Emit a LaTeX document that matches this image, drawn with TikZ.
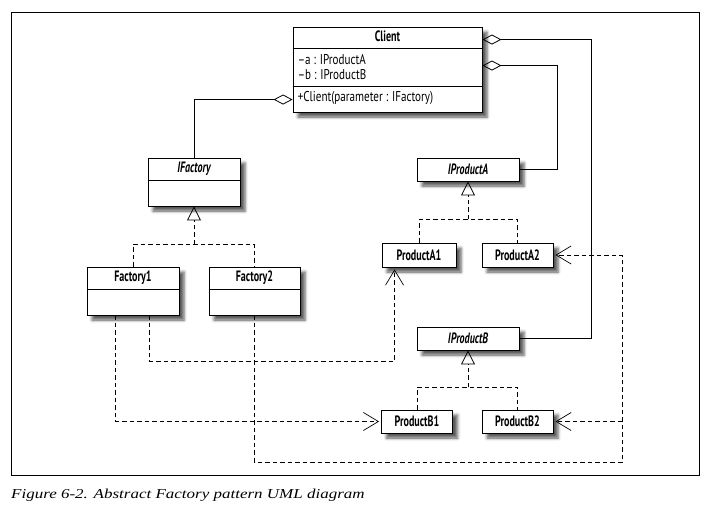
\documentclass[tikz,border=0pt]{standalone}
\usepackage{fontspec}
\setmainfont{Liberation Serif}
\newfontfamily\umlfont{PT Sans}[FakeStretch=0.78]
\newfontfamily\umlbfont{PT Sans}[FakeStretch=0.67]
\newfontfamily\capfont{Liberation Serif}[FakeStretch=1.25]
\usetikzlibrary{arrows.meta,shadows.blur,calc}
\tikzset{
  umlbox/.style={draw, line width=0.9pt, fill=white, inner sep=0pt,
    blur shadow={shadow xshift=5pt, shadow yshift=-5pt, shadow blur radius=3pt, shadow opacity=65}},
  sepline/.style={line width=0.9pt},
  conn/.style={line width=0.8pt},
  agg/.style={conn, -{Diamond[open, length=19pt, width=10pt, line width=0.8pt]}},
  inh/.style={conn, dash pattern=on 4.5pt off 3pt, -{Triangle[open, length=14pt, width=14pt, line width=0.8pt]}},
  dashline/.style={conn, dash pattern=on 4.5pt off 3pt},
  dep/.style={conn, dash pattern=on 4.5pt off 3pt, -{Straight Barb[length=15pt, width=18pt, line width=0.7pt]}, shorten >=2pt},
  titletext/.style={font=\umlbfont\bfseries\fontsize{15}{17}\selectfont},
  abstext/.style={font=\umlbfont\bfseries\itshape\fontsize{15}{17}\selectfont},
  plaintext/.style={font=\umlfont\fontsize{14.2}{16}\selectfont, anchor=base west, inner sep=0pt},
}
\begin{document}
\begin{tikzpicture}[x=1pt, y=-1pt]
\useasboundingbox (0,0) rectangle (711,514);
\draw[line width=1pt] (11,12) rectangle (699,475);

% Client
\node[umlbox, minimum width=189, minimum height=85] (client) at (387.5,69.5) {};
\draw[sepline] ($(client.north west)+(0,22)$) -- ($(client.north east)+(0,22)$);
\draw[sepline] ($(client.north west)+(0,60)$) -- ($(client.north east)+(0,60)$);
\node[titletext, anchor=base, inner sep=0pt] (cltitle) at ($(client.north)+(0,15)$) {Client};
\node[plaintext] (cla) at ($(client.north west)+(5,37.5)$) {–a : IProductA};
\node[plaintext] (clb) at ($(client.north west)+(5,52.5)$) {–b : IProductB};
\node[plaintext] (clm) at ($(client.north west)+(5,75)$) {+Client(parameter : IFactory)};

% IFactory
\node[umlbox, minimum width=92, minimum height=48] (ifac) at (194,182) {};
\draw[sepline] ($(ifac.north west)+(0,23)$) -- ($(ifac.north east)+(0,23)$);
\node[abstext] (ifact) at ($(ifac.north)+(0,11.5)$) {IFactory};

% Factory1 / Factory2
\node[umlbox, minimum width=92, minimum height=48] (f1) at (133,291) {};
\draw[sepline] ($(f1.north west)+(0,23)$) -- ($(f1.north east)+(0,23)$);
\node[titletext] (f1t) at ($(f1.north)+(0,11.5)$) {Factory1};
\node[umlbox, minimum width=91, minimum height=48] (f2) at (254.5,291) {};
\draw[sepline] ($(f2.north west)+(0,23)$) -- ($(f2.north east)+(0,23)$);
\node[titletext] (f2t) at ($(f2.north)+(0,11.5)$) {Factory2};

% Products
\node[umlbox, abstext, minimum width=102, minimum height=23] (ipa) at (468,169.5) {IProductA};
\node[umlbox, titletext, minimum width=74, minimum height=24] (pa1) at (419,255) {ProductA1};
\node[umlbox, titletext, minimum width=71, minimum height=24] (pa2) at (517.5,255) {ProductA2};
\node[umlbox, abstext, minimum width=102, minimum height=23] (ipb) at (468,338.5) {IProductB};
\node[umlbox, titletext, minimum width=71, minimum height=23] (pb1) at (417,421.5) {ProductB1};
\node[umlbox, titletext, minimum width=71, minimum height=23] (pb2) at (517.5,421.5) {ProductB2};

% aggregation
\coordinate (cagA) at ($(client.north east)+(0,13)$);
\coordinate (cagB) at ($(client.north east)+(0,39)$);
\coordinate (cagF) at ($(client.north west)+(0,73)$);
\draw[agg] (ifac.north) |- (cagF);
\draw[agg] (ipa.east) -| ($(cagB)+(75,0)$) -- (cagB);
\draw[agg] (ipb.east) -| ($(cagA)+(109,0)$) -- (cagA);

% inheritance
\coordinate (jf) at ($(ifac.south)+(0,38)$);
\draw[dashline] (f1.north) |- (jf) -| (f2.north);
\draw[inh] (jf) -- (ifac.south);
\coordinate (ja) at ($(ipa.south)+(0,38)$);
\draw[dashline] (pa1.north) |- (ja) -| (pa2.north);
\draw[inh] (ja) -- (ipa.south);
\coordinate (jb) at ($(ipb.south)+(0,37)$);
\draw[dashline] (pb1.north) |- (jb) -| (pb2.north);
\draw[inh] (jb) -- (ipb.south);

% dependencies
\coordinate (f1a) at ($(f1.south west)+(29,0)$);
\coordinate (f1b) at ($(f1.south west)+(63,0)$);
\coordinate (pa1in) at ($(pa1.south west)+(13,0)$);
\draw[dep] (f1b) |- ($(pa1in)+(0,94)$) -- (pa1in);
\draw[dep] (f1a) |- (pb1.west);
\coordinate (jx) at ($(f2.south)+(367.5,147)$);
\draw[dep] (f2.south) |- (jx) |- (pa2.east);
\draw[dep] (pb2.east -| jx) -- (pb2.east);

% caption
\node[anchor=base west, inner sep=0pt, font=\capfont\itshape\fontsize{13.6}{16}\selectfont] (caption) at (11,498.5) {Figure 6-2. Abstract Factory pattern UML diagram};
\end{tikzpicture}
\end{document}
